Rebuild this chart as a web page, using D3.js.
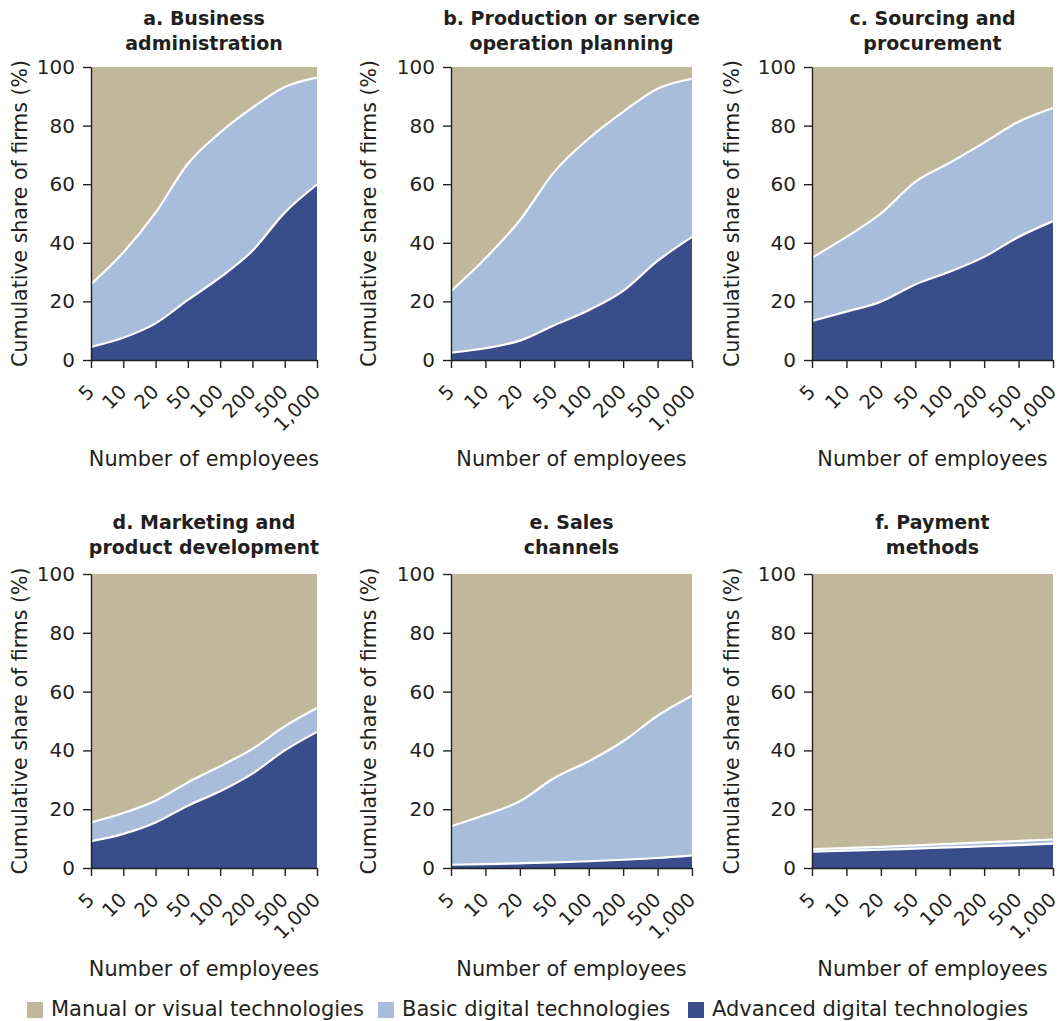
<!DOCTYPE html>
<html>
<head>
<meta charset="utf-8">
<script src="https://cdn.jsdelivr.net/npm/d3@7"></script>
<style>
  html, body { margin: 0; padding: 0; background: #ffffff; }
  svg { display: block; }
</style>
</head>
<body>
<div id="chart"></div>
<script>
// ---------------- DATA ----------------
const sizeCategories = ["5", "10", "20", "50", "100", "200", "500", "1,000"];
const yTickValues = [0, 20, 40, 60, 80, 100];
const seriesNames = ["Manual or visual technologies", "Basic digital technologies", "Advanced digital technologies"];
const panelTitles = [
  ["a. Business", "administration"],
  ["b. Production or service", "operation planning"],
  ["c. Sourcing and", "procurement"],
  ["d. Marketing and", "product development"],
  ["e. Sales", "channels"],
  ["f. Payment", "methods"]
];
const xAxisTitle = "Number of employees";
const yAxisTitle = "Cumulative share of firms (%)";

// shares (%) of firms per layer, by firm size
const advancedA = [4.5, 7.6, 12.5, 20.5, 28.2, 37.3, 50.3, 59.9];
const basicA    = [21.4, 29.1, 37.8, 46.5, 49.4, 48.8, 42.9, 36.5];
const manualA   = [74.1, 63.3, 49.7, 33.0, 22.4, 13.9, 6.8, 3.6];

const advancedB = [2.5, 4.0, 6.6, 11.9, 17.0, 23.6, 33.8, 42.0];
const basicB    = [21.0, 30.7, 41.1, 52.3, 58.6, 61.1, 58.8, 54.0];
const manualB   = [76.5, 65.3, 52.3, 35.8, 24.4, 15.3, 7.4, 4.0];

const advancedC = [13.3, 16.5, 19.9, 25.8, 30.1, 35.2, 42.0, 47.4];
const basicC    = [21.6, 25.5, 30.1, 35.0, 37.2, 39.0, 39.3, 38.6];
const manualC   = [65.1, 58.0, 50.0, 39.2, 32.7, 25.8, 18.7, 14.0];

const advancedD = [9.1, 11.6, 15.5, 21.2, 26.1, 32.1, 40.0, 46.3];
const basicD    = [6.4, 7.1, 7.4, 7.9, 8.5, 8.4, 8.2, 8.1];
const manualD   = [84.5, 81.3, 77.1, 70.9, 65.4, 59.5, 51.8, 45.6];

const advancedE = [1.1, 1.3, 1.6, 1.9, 2.3, 2.8, 3.4, 4.3];
const basicE    = [13.1, 16.8, 21.1, 28.7, 34.0, 40.3, 48.4, 54.3];
const manualE   = [85.8, 81.9, 77.3, 69.4, 63.7, 56.9, 48.2, 41.4];

const advancedF = [5.6, 5.9, 6.2, 6.6, 7.0, 7.4, 7.8, 8.3];
const basicF    = [0.8, 0.9, 1.0, 1.1, 1.2, 1.3, 1.4, 1.4];
const manualF   = [93.6, 93.2, 92.8, 92.3, 91.8, 91.3, 90.8, 90.3];

const panelAdvanced = [advancedA, advancedB, advancedC, advancedD, advancedE, advancedF];
const panelBasic    = [basicA, basicB, basicC, basicD, basicE, basicF];
const panelManual   = [manualA, manualB, manualC, manualD, manualE, manualF];

// ---------------- LAYOUT / STYLE ----------------
const W = 1063, H = 1021;
const FONT = "'DejaVu Sans', 'Open Sans', sans-serif";
const TEXT = "#231f20";
const colors = { manual: "#c1b79a", basic: "#a8bcdb", advanced: "#394d8b" };
const cols = [
  { left: 91,  width: 226, yTitleX: 27 },
  { left: 451, width: 241, yTitleX: 376 },
  { left: 812, width: 241, yTitleX: 739 }
];
const rows = [
  { top: 67,  bottom: 360, t1: 25,  t2: 50,  xTitleY: 466 },
  { top: 574, bottom: 868, t1: 529, t2: 554, xTitleY: 976 }
];

const svg = d3.select("#chart").append("svg")
  .attr("width", W).attr("height", H)
  .attr("font-family", FONT);

const keys = ["advanced", "basic", "manual"];
const stack = d3.stack().keys(keys);

panelTitles.forEach((title, i) => {
  const c = cols[i % 3], r = rows[Math.floor(i / 3)];
  const x = d3.scalePoint().domain(sizeCategories).range([c.left, c.left + c.width]);
  const y = d3.scaleLinear().domain([0, 100]).range([r.bottom, r.top]);

  const data = sizeCategories.map((cat, j) => ({
    cat, advanced: panelAdvanced[i][j], basic: panelBasic[i][j], manual: panelManual[i][j]
  }));
  const series = stack(data);
  const g = svg.append("g");

  const area = d3.area()
    .x(d => x(d.data.cat))
    .y0(d => y(d[0]))
    .y1(d => y(d[1]))
    .curve(d3.curveMonotoneX);
  const line = d3.line()
    .x(d => x(d.data.cat))
    .y(d => y(d[1]))
    .curve(d3.curveMonotoneX);

  // areas: manual (back), basic, advanced
  [2, 1, 0].forEach(k => {
    g.append("path").datum(series[k])
      .attr("d", area)
      .attr("fill", colors[keys[k]]);
  });
  // white separator lines on top of advanced and basic layers
  [0, 1].forEach(k => {
    g.append("path").datum(series[k])
      .attr("d", line)
      .attr("fill", "none")
      .attr("stroke", "#ffffff")
      .attr("stroke-width", 2.2);
  });

  // y axis
  const ya = g.append("g")
    .attr("transform", `translate(${c.left},0)`)
    .call(d3.axisLeft(y).tickValues(yTickValues).tickSize(8).tickSizeOuter(0).tickPadding(8));
  ya.attr("font-family", FONT).attr("font-size", 20);
  ya.selectAll("text").attr("fill", TEXT);
  ya.selectAll("line, path").attr("stroke", TEXT).attr("stroke-width", 1.4);

  // x axis
  const xa = g.append("g")
    .attr("transform", `translate(0,${r.bottom})`)
    .call(d3.axisBottom(x).tickSize(8).tickSizeOuter(0));
  xa.attr("font-family", FONT).attr("font-size", 19.5);
  xa.selectAll("line, path").attr("stroke", TEXT).attr("stroke-width", 1.4);
  xa.selectAll("text")
    .attr("fill", TEXT)
    .attr("text-anchor", "end")
    .attr("x", null).attr("y", null).attr("dy", null)
    .attr("transform", "translate(4,33) rotate(-45)");

  // titles
  const cx = c.left + c.width / 2;
  g.append("text").attr("x", cx).attr("y", r.t1)
    .attr("text-anchor", "middle").attr("font-weight", "bold").attr("font-size", 19)
    .attr("fill", TEXT).text(title[0]);
  g.append("text").attr("x", cx).attr("y", r.t2)
    .attr("text-anchor", "middle").attr("font-weight", "bold").attr("font-size", 19)
    .attr("fill", TEXT).text(title[1]);

  // axis titles
  g.append("text")
    .attr("transform", `translate(${cx},${r.xTitleY})`)
    .attr("text-anchor", "middle").attr("font-size", 20.8).attr("fill", TEXT)
    .text(xAxisTitle);
  g.append("text")
    .attr("transform", `translate(${c.yTitleX},${(r.top + r.bottom) / 2}) rotate(-90)`)
    .attr("text-anchor", "middle").attr("font-size", 20.5).attr("fill", TEXT)
    .text(yAxisTitle);
});

// legend
const legendX = [27, 378, 688];
const legendColors = [colors.manual, colors.basic, colors.advanced];
seriesNames.forEach((name, i) => {
  const lg = svg.append("g").attr("transform", `translate(${legendX[i]},0)`);
  lg.append("rect").attr("x", 0).attr("y", 1002).attr("width", 16).attr("height", 16)
    .attr("fill", legendColors[i]);
  lg.append("text").attr("x", 24).attr("y", 1016)
    .attr("font-size", 21).attr("fill", TEXT).text(name);
});
</script>
</body>
</html>
